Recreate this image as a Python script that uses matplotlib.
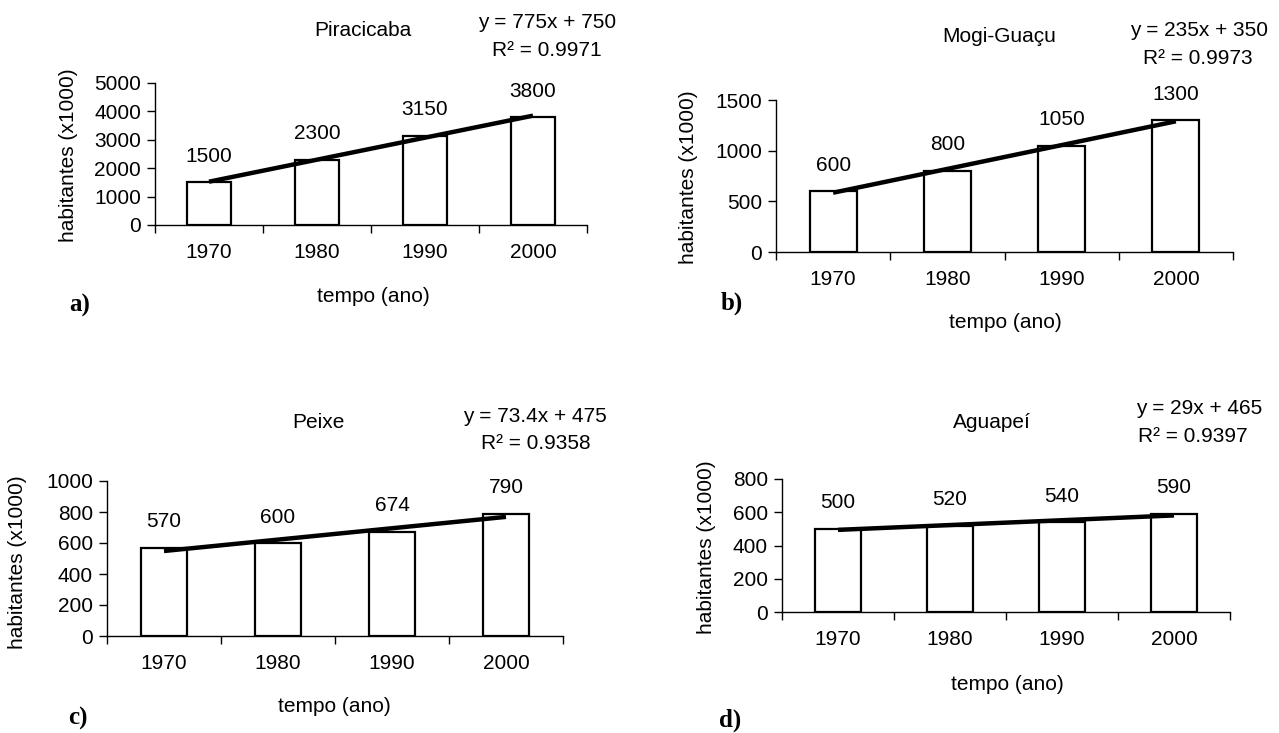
import matplotlib
matplotlib.use("Agg")
import matplotlib.pyplot as plt
from matplotlib.ticker import FixedLocator, NullFormatter, FixedFormatter

plt.rcParams['font.family'] = ['Liberation Sans', 'DejaVu Sans']

W, H = 1279, 733
DPI = 100

years = ['1970', '1980', '1990', '2000']

piracicaba = [1500, 2300, 3150, 3800]
mogi_guacu = [600, 800, 1050, 1300]
peixe = [570, 600, 674, 790]
aguapei = [500, 520, 540, 590]

titles = ['Piracicaba', 'Mogi-Guaçu', 'Peixe', 'Aguapeí']
slopes = [775, 235, 73.4, 29]
intercepts = [750, 350, 475, 465]
eq_labels = ['y = 775x + 750', 'y = 235x + 350', 'y = 73.4x + 475', 'y = 29x + 465']
r2_labels = ['R² = 0.9971', 'R² = 0.9973', 'R² = 0.9358', 'R² = 0.9397']
panel_letters = ['a)', 'b)', 'c)', 'd)']
y_limits = [5000, 1500, 1000, 800]
y_steps = [1000, 500, 200, 200]

series = [piracicaba, mogi_guacu, peixe, aguapei]

# layout (pixel positions, y from top)
axes_px = [  # left, right, y_zero, y_top
    (155, 587, 225, 83),
    (776, 1233, 252, 100),
    (107, 563, 636, 481),
    (782, 1230, 612, 479),
]
title_px = [(363, 30), (999, 37), (318, 423), (992, 423)]
eq_px = [(547, 22), (1199, 30), (535, 417), (1199, 408)]
r2_px = [(547, 50), (1198, 58), (536, 444), (1193, 437)]
xlabel_px = [(373, 297), (1005, 322), (334, 707), (1007, 685)]
letter_px = [(80, 305), (732, 303), (78, 718), (730, 720)]
ylabel_px = [(68, 155), (689, 177), (18, 562), (706, 547)]

fig = plt.figure(figsize=(W / DPI, H / DPI), dpi=DPI)
fig.patch.set_facecolor('white')

FS = 15


def ftext(px, py, s, **kw):
    fig.text(px / W, 1 - py / H, s, ha='center', va='center', **kw)


for i in range(4):
    l, r, y0, yt = axes_px[i]
    ax = fig.add_axes([l / W, 1 - y0 / H, (r - l) / W, (y0 - yt) / H])
    xs = list(range(1, 5))
    vals = series[i]
    ax.bar(xs, vals, width=0.41, facecolor='white', edgecolor='black', linewidth=1.6, zorder=2)
    trend = [slopes[i] * x + intercepts[i] for x in xs]
    ax.plot([xs[0], xs[-1]], [trend[0], trend[-1]], color='black', linewidth=3.2,
            solid_capstyle='butt', zorder=3)
    for x, v in zip(xs, vals):
        ax.annotate(str(v), (x, v), xytext=(0, 18.7), textcoords='offset points',
                    ha='center', va='center', fontsize=FS)
    ax.set_xlim(0.5, 4.5)
    ax.set_ylim(0, y_limits[i])
    yt_vals = list(range(0, y_limits[i] + 1, y_steps[i]))
    ax.set_yticks(yt_vals)
    ax.set_yticklabels([str(v) for v in yt_vals], fontsize=FS)
    ax.xaxis.set_major_locator(FixedLocator([0.5, 1.5, 2.5, 3.5, 4.5]))
    ax.xaxis.set_major_formatter(NullFormatter())
    ax.xaxis.set_minor_locator(FixedLocator(xs))
    ax.xaxis.set_minor_formatter(FixedFormatter(years))
    ax.tick_params(axis='x', which='major', direction='out', length=6, width=1)
    ax.tick_params(axis='x', which='minor', length=0, pad=13, labelsize=FS)
    ax.tick_params(axis='y', direction='out', length=6, width=1, pad=4, labelsize=FS)
    for s in ['top', 'right']:
        ax.spines[s].set_visible(False)
    for s in ['left', 'bottom']:
        ax.spines[s].set_linewidth(1)
    ax.set_facecolor('none')

    ftext(*title_px[i], titles[i], fontsize=FS)
    ftext(*eq_px[i], eq_labels[i], fontsize=FS)
    ftext(*r2_px[i], r2_labels[i], fontsize=FS)
    ftext(*xlabel_px[i], 'tempo (ano)', fontsize=FS)
    ftext(*ylabel_px[i], 'habitantes (x1000)', fontsize=FS, rotation=90)
    ftext(*letter_px[i], panel_letters[i], fontsize=18, fontweight='bold',
          family=['Liberation Serif', 'DejaVu Serif'])

fig.savefig('out.png', dpi=DPI, facecolor='white')
